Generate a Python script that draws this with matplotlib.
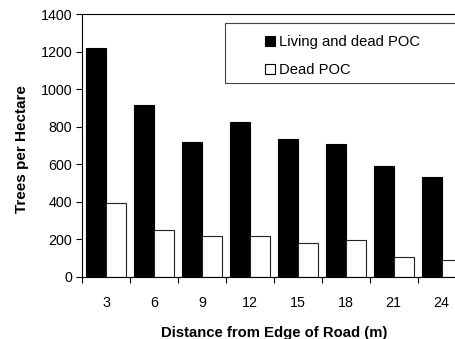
import matplotlib
matplotlib.use("Agg")
import matplotlib.pyplot as plt
from matplotlib.patches import Rectangle, Patch
import numpy as np

distances = ["3", "6", "9", "12", "15", "18", "21", "24"]
living_and_dead = [1220, 915, 718, 827, 735, 708, 593, 530]
dead_only = [395, 252, 216, 216, 180, 198, 108, 90]

plt.rcParams["font.family"] = ["Liberation Sans", "DejaVu Sans"]
plt.rcParams["font.size"] = 10.3

W, H = 456, 339
fig = plt.figure(figsize=(W / 100, H / 100), dpi=100)
ax = fig.add_axes([82 / W, 1 - 277 / H, 383.6 / W, 263 / H])

x = np.arange(len(distances))
bw = 0.415
ax.bar(x - bw / 2, living_and_dead, width=bw, color="black", edgecolor="black", linewidth=0.8)
ax.bar(x + bw / 2, dead_only, width=bw, color="white", edgecolor="#222222", linewidth=0.8)

ax.set_xlim(-0.5, len(distances) - 0.5)
ax.set_ylim(0, 1400)
ax.set_yticks(np.arange(0, 1401, 200))
ax.set_xticks(x)
ax.set_xticklabels(distances)
ax.set_xticks(np.arange(-0.5, len(distances), 1), minor=True)
ax.tick_params(axis="x", which="major", length=0, pad=14)
ax.tick_params(axis="x", which="minor", length=4, width=0.8, direction="out")
ax.tick_params(axis="y", length=4, width=0.8, direction="out", pad=3)

for side in ("left", "bottom", "top"):
    ax.spines[side].set_linewidth(0.8)
    ax.spines[side].set_color("black")
ax.spines["right"].set_visible(False)

ax.set_ylabel("Trees per Hectare", fontweight="bold", fontsize=11)
ax.yaxis.set_label_coords(-0.137, 0.485)
ax.set_xlabel("Distance from Edge of Road (m)", fontweight="bold", fontsize=10.7, labelpad=11)

# legend frame
fig.patches.append(Rectangle((225 / W, 1 - 83 / H), 250 / W, 59.7 / H,
                             transform=fig.transFigure, facecolor="white",
                             edgecolor="#444444", linewidth=0.8, zorder=5))
handles = [Patch(facecolor="black", edgecolor="black", linewidth=0.8),
           Patch(facecolor="white", edgecolor="black", linewidth=0.8)]
leg = fig.legend(handles, ["Living and dead POC", "Dead POC"],
                 loc="upper left", bbox_to_anchor=(265 / W, 1 - 35 / H),
                 frameon=False, handlelength=0.68, handleheight=0.68,
                 handletextpad=0.25, labelspacing=0.95, borderpad=0, borderaxespad=0,
                 fontsize=10.6)
leg.set_zorder(6)

fig.savefig("out.png", dpi=100)
